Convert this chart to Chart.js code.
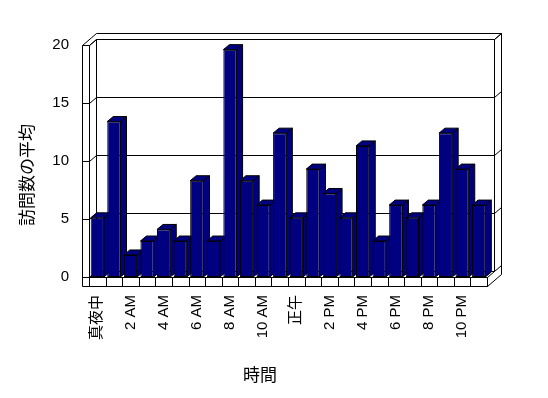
<!DOCTYPE html>
<html>
<head>
<meta charset="utf-8">
<script src="https://cdn.jsdelivr.net/npm/chart.js@4"></script>
<style>
  html, body { margin: 0; padding: 0; background: #fff; }
  canvas { display: block; }
</style>
</head>
<body>
<canvas id="chart" width="548" height="398"></canvas>
<script>
// --- data ---
const hourLabels = ['真夜中', '', '2 AM', '', '4 AM', '', '6 AM', '', '8 AM', '', '10 AM', '',
                    '正午', '', '2 PM', '', '4 PM', '', '6 PM', '', '8 PM', '', '10 PM', ''];
const avgVisits = [5.1, 13.4, 1.9, 3.1, 4.1, 3.1, 8.3, 3.1, 19.6, 8.3, 6.2, 12.4,
                   5.1, 9.3, 7.2, 5.1, 11.3, 3.1, 6.2, 5.1, 6.2, 12.4, 9.3, 6.2];
const yTicks = [0, 5, 10, 15, 20];
const xTitle = '時間';
const yTitle = '訪問数の平均';

const NAVY = '#000080';
const FONT = '"Liberation Sans", "Noto Sans CJK JP", sans-serif';

// --- 3D box + bar depth, drawn around the library's own bars ---
const box3d = {
  id: 'box3d',
  beforeDatasetsDraw(chart) {
    const ctx = chart.ctx;
    const { left: L, right: R, top: T, bottom: B } = chart.chartArea;
    const ys = chart.scales.y;
    const d1x = 7, d1y = -6;     // inner face of back wall
    const d2x = 14, d2y = -12;   // outer face of back wall
    const wall = 7, floorH = 9;

    ctx.save();
    ctx.lineWidth = 1;
    ctx.strokeStyle = '#000';
    ctx.fillStyle = '#fff';
    const line = (x1, y1, x2, y2) => {
      ctx.beginPath();
      ctx.moveTo(Math.round(x1) + 0.5, Math.round(y1) + 0.5);
      ctx.lineTo(Math.round(x2) + 0.5, Math.round(y2) + 0.5);
      ctx.stroke();
    };

    // top of walls
    line(L - wall, T, L + d2x - wall, T + d2y);
    line(L, T, L + d1x, T + d1y);
    line(L + d2x - wall, T + d2y, R + d2x, T + d2y);
    line(L + d1x, T + d1y, R + d1x, T + d1y);
    line(R + d1x, T + d1y, R + d2x, T + d2y);

    // back wall right edges
    line(R + d1x, T + d1y, R + d1x, B + d1y);
    line(R + d2x, T + d2y, R + d2x, B + floorH + d2y);

    // left wall
    line(L - wall, T, L - wall, B + floorH);
    line(L, T, L, B);
    line(L + d1x, T + d1y, L + d1x, B + d1y);

    // gridlines
    yTicks.forEach(v => {
      const y = ys.getPixelForValue(v);
      line(L - wall, y, L, y);
      line(L, y, L + d1x, y + d1y);
      line(L + d1x, y + d1y, R + d1x, y + d1y);
      line(R + d1x, y + d1y, R + d2x, y + d2y);
    });

    // floor
    line(L, B, R, B);
    line(L - wall, B + floorH, R, B + floorH);
    line(R, B, R, B + floorH);
    line(R, B, R + d1x, B + d1y);
    line(R, B + floorH, R + d2x, B + floorH + d2y);
    const xs = chart.scales.x;
    for (let i = 0; i <= hourLabels.length; i++) {
      const x = i < hourLabels.length
        ? xs.getPixelForValue(i) - (xs.getPixelForValue(1) - xs.getPixelForValue(0)) / 2
        : R;
      line(x, B, x, B + floorH);
    }

    // bar sides and tops
    const bdx = 6, bdy = -5;
    chart.getDatasetMeta(0).data.forEach(bar => {
      const bl = bar.x - bar.width / 2, br = bar.x + bar.width / 2;
      const bt = bar.y, bb = bar.base;
      ctx.fillStyle = NAVY;
      ctx.beginPath();
      ctx.moveTo(br, bt); ctx.lineTo(br + bdx, bt + bdy);
      ctx.lineTo(br + bdx, bb + bdy); ctx.lineTo(br, bb);
      ctx.closePath(); ctx.fill(); ctx.stroke();
      ctx.beginPath();
      ctx.moveTo(bl, bt); ctx.lineTo(bl + bdx, bt + bdy);
      ctx.lineTo(br + bdx, bt + bdy); ctx.lineTo(br, bt);
      ctx.closePath(); ctx.fill(); ctx.stroke();
    });
    ctx.restore();
  },
  afterDraw(chart) {
    const ctx = chart.ctx;
    ctx.save();
    ctx.fillStyle = '#000';
    ctx.font = '17px ' + FONT;
    ctx.textAlign = 'center';
    ctx.textBaseline = 'middle';
    ctx.fillText(xTitle, 260, 376);
    ctx.translate(28, 175);
    ctx.rotate(-Math.PI / 2);
    ctx.fillText(yTitle, 0, 0);
    ctx.restore();
  }
};

const ctx = document.getElementById('chart').getContext('2d');
new Chart(ctx, {
  type: 'bar',
  data: {
    labels: hourLabels,
    datasets: [{
      data: avgVisits,
      backgroundColor: NAVY,
      borderColor: '#000',
      borderWidth: 1,
      borderSkipped: false,
      categoryPercentage: 1,
      barPercentage: 0.8
    }]
  },
  options: {
    responsive: false,
    animation: false,
    layout: { padding: { left: 0, top: 45, right: 61, bottom: 0 } },
    plugins: { legend: { display: false }, tooltip: { enabled: false } },
    scales: {
      x: {
        grid: { display: false, drawTicks: false },
        border: { display: false },
        ticks: {
          autoSkip: false, minRotation: 90, maxRotation: 90, padding: 18,
          color: '#000', font: { family: FONT, size: 15 }
        },
        afterFit: s => { s.height = 121; }
      },
      y: {
        min: 0, max: 20,
        grid: { display: false, drawTicks: false },
        border: { display: false },
        ticks: {
          stepSize: 5, padding: 20,
          color: '#000', font: { family: FONT, size: 15 }
        },
        afterFit: s => { s.width = 89; }
      }
    }
  },
  plugins: [box3d]
});
</script>
</body>
</html>
